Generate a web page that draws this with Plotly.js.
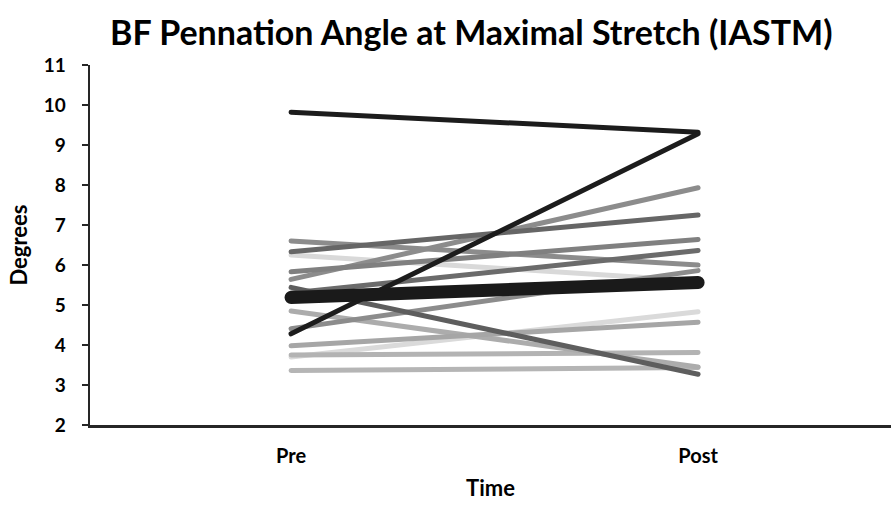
<!DOCTYPE html>
<html>
<head>
<meta charset="utf-8">
<script src="https://cdn.plot.ly/plotly-3.0.1.min.js"></script>
<style>
  html, body { margin: 0; padding: 0; background: #ffffff; }
  #chart { width: 891px; height: 506px; }
  /* rounded ends on every subject line */
  .scatterlayer .js-line { stroke-linecap: round; }
</style>
</head>
<body>
<div id="chart"></div>
<script>
// Measurement occasions
const timePoints = ['Pre', 'Post'];

// Biceps femoris pennation angle (degrees) per subject
const preDeg  = [9.82, 4.28, 6.60, 6.33, 6.25, 5.83, 5.64, 5.44, 5.30, 4.85, 4.41, 3.98, 3.70, 3.75, 3.36];
const postDeg = [9.32, 9.28, 6.00, 7.25, 5.60, 6.64, 7.93, 3.27, 6.36, 3.45, 5.86, 4.57, 4.83, 3.81, 3.44];

// Group mean line
const meanDeg = [5.19, 5.56];

// Y axis ticks
const yTicks = [2, 3, 4, 5, 6, 7, 8, 9, 10, 11];

// Grey shade for each subject line
const shades = ['#1c1c1c', '#1c1c1c', '#8c8c8c', '#666666', '#d9d9d9', '#808080', '#8c8c8c',
                '#5e5e5e', '#6b6b6b', '#acacac', '#8c8c8c', '#a6a6a6', '#dadada', '#b3b3b3', '#b5b5b5'];

const FONT = 'Lato, "Open Sans", sans-serif';

// Lighter lines underneath, darker lines on top
const order = preDeg.map((_, i) => i).sort((a, b) => {
  const lum = c => parseInt(c.slice(1, 3), 16);
  return lum(shades[b]) - lum(shades[a]);
});

const traces = order.map(i => ({
  type: 'scatter',
  mode: 'lines',
  x: timePoints,
  y: [preDeg[i], postDeg[i]],
  line: { color: shades[i], width: 5 },
  hoverinfo: 'skip',
  showlegend: false
}));

traces.push({
  type: 'scatter',
  mode: 'lines',
  x: timePoints,
  y: meanDeg,
  line: { color: '#1a1a1a', width: 13 },
  hoverinfo: 'skip',
  showlegend: false
});

const layout = {
  width: 891,
  height: 506,
  paper_bgcolor: '#ffffff',
  plot_bgcolor: '#ffffff',
  margin: { l: 90, r: 0, t: 65, b: 81 },
  font: { family: FONT, color: '#000000' },
  title: {
    text: 'BF Pennation Angle at Maximal Stretch (IASTM)',
    font: { family: FONT, size: 34, weight: 'bold', color: '#000000' },
    x: 0.529, xanchor: 'center',
    y: 0.934, yanchor: 'middle'
  },
  xaxis: {
    type: 'category',
    range: [-0.494, 1.474],
    showgrid: false,
    zeroline: false,
    showline: true,
    linecolor: '#262626',
    linewidth: 2.5,
    ticks: '',
    ticklabelstandoff: 11,
    tickfont: { family: FONT, size: 20, weight: 'bold', color: '#000000' },
    title: {
      text: 'Time',
      font: { family: FONT, size: 22, weight: 'bold', color: '#000000' },
      standoff: 15
    },
    fixedrange: true
  },
  yaxis: {
    range: [2, 11],
    tickvals: yTicks,
    showgrid: false,
    zeroline: false,
    showline: true,
    linecolor: '#262626',
    linewidth: 2.5,
    ticks: 'outside',
    ticklen: 6,
    tickwidth: 2.5,
    tickcolor: '#262626',
    ticklabelstandoff: 12,
    tickfont: { family: FONT, size: 19, weight: 'bold', color: '#000000' },
    title: {
      text: 'Degrees',
      font: { family: FONT, size: 22, weight: 'bold', color: '#000000' },
      standoff: 10
    },
    fixedrange: true
  }
};

Plotly.newPlot('chart', traces, layout, { displayModeBar: false, staticPlot: true });
</script>
</body>
</html>
